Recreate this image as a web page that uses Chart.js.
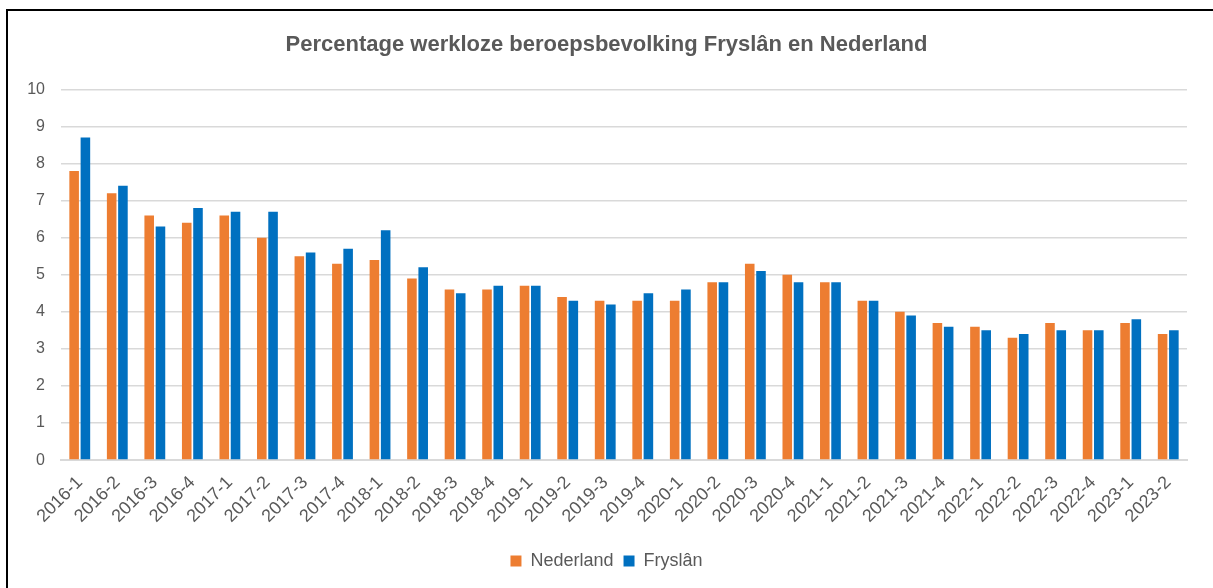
<!DOCTYPE html>
<html>
<head>
<meta charset="utf-8">
<script src="https://cdn.jsdelivr.net/npm/chart.js@4/dist/chart.umd.min.js"></script>
<style>
html,body{margin:0;padding:0;background:#fff;overflow:hidden;}
#wrap{position:absolute;left:0;top:0;width:1213px;height:588px;}
#frame{position:absolute;left:6px;top:9px;width:1300px;height:700px;border-left:2px solid #000;border-top:2px solid #000;pointer-events:none;}
</style>
</head>
<body>
<div id="wrap"><canvas id="c" width="1213" height="588"></canvas></div>
<div id="frame"></div>
<script>
const categories = ["2016-1","2016-2","2016-3","2016-4","2017-1","2017-2","2017-3","2017-4","2018-1","2018-2","2018-3","2018-4","2019-1","2019-2","2019-3","2019-4","2020-1","2020-2","2020-3","2020-4","2021-1","2021-2","2021-3","2021-4","2022-1","2022-2","2022-3","2022-4","2023-1","2023-2"];
const nederland = [7.8,7.2,6.6,6.4,6.6,6.0,5.5,5.3,5.4,4.9,4.6,4.6,4.7,4.4,4.3,4.3,4.3,4.8,5.3,5.0,4.8,4.3,4.0,3.7,3.6,3.3,3.7,3.5,3.7,3.4];
const fryslan = [8.7,7.4,6.3,6.8,6.7,6.7,5.6,5.7,6.2,5.2,4.5,4.7,4.7,4.3,4.2,4.5,4.6,4.8,5.1,4.8,4.8,4.3,3.9,3.6,3.5,3.4,3.5,3.5,3.8,3.5];
const yTicks = [0,1,2,3,4,5,6,7,8,9,10];
const titleText = "Percentage werkloze beroepsbevolking Fryslân en Nederland";

const grey = "#595959";
new Chart(document.getElementById("c"), {
  type: "bar",
  data: {
    labels: categories,
    datasets: [
      {label:"Nederland", data:nederland, backgroundColor:"#ED7D31", borderWidth:0},
      {label:"Fryslân", data:fryslan, backgroundColor:"#0070C0", borderWidth:0}
    ]
  },
  options: {
    responsive:false,
    animation:false,
    layout:{padding:{left:26,right:26,top:32,bottom:8}},
    datasets:{bar:{categoryPercentage:0.6,barPercentage:0.85}},
    plugins:{
      title:{display:true,text:titleText,color:grey,font:{family:"Liberation Sans",size:22,weight:"bold"},padding:{top:0,bottom:31}},
      legend:{position:"bottom",labels:{color:grey,boxWidth:11,boxHeight:11,padding:10,font:{family:"Liberation Sans",size:18}}},
      tooltip:{enabled:false}
    },
    scales:{
      x:{
        grid:{display:false,drawTicks:false},
        border:{display:true,color:"#d9d9d9",width:2},
        afterFit:(s)=>{s.height=s.height+3;},
        ticks:{color:grey,maxRotation:45,minRotation:45,padding:12,autoSkip:false,font:{family:"Liberation Sans",size:18}}
      },
      y:{
        min:0,max:10,
        afterBuildTicks:(s)=>{s.ticks=yTicks.map(v=>({value:v}));},
        afterFit:(s)=>{s.width=35;},
        grid:{color:"#d9d9d9",lineWidth:1.5,drawTicks:false},
        border:{display:false},
        ticks:{color:grey,padding:16,font:{family:"Liberation Sans",size:16}}
      }
    }
  }
});
</script>
</body>
</html>
